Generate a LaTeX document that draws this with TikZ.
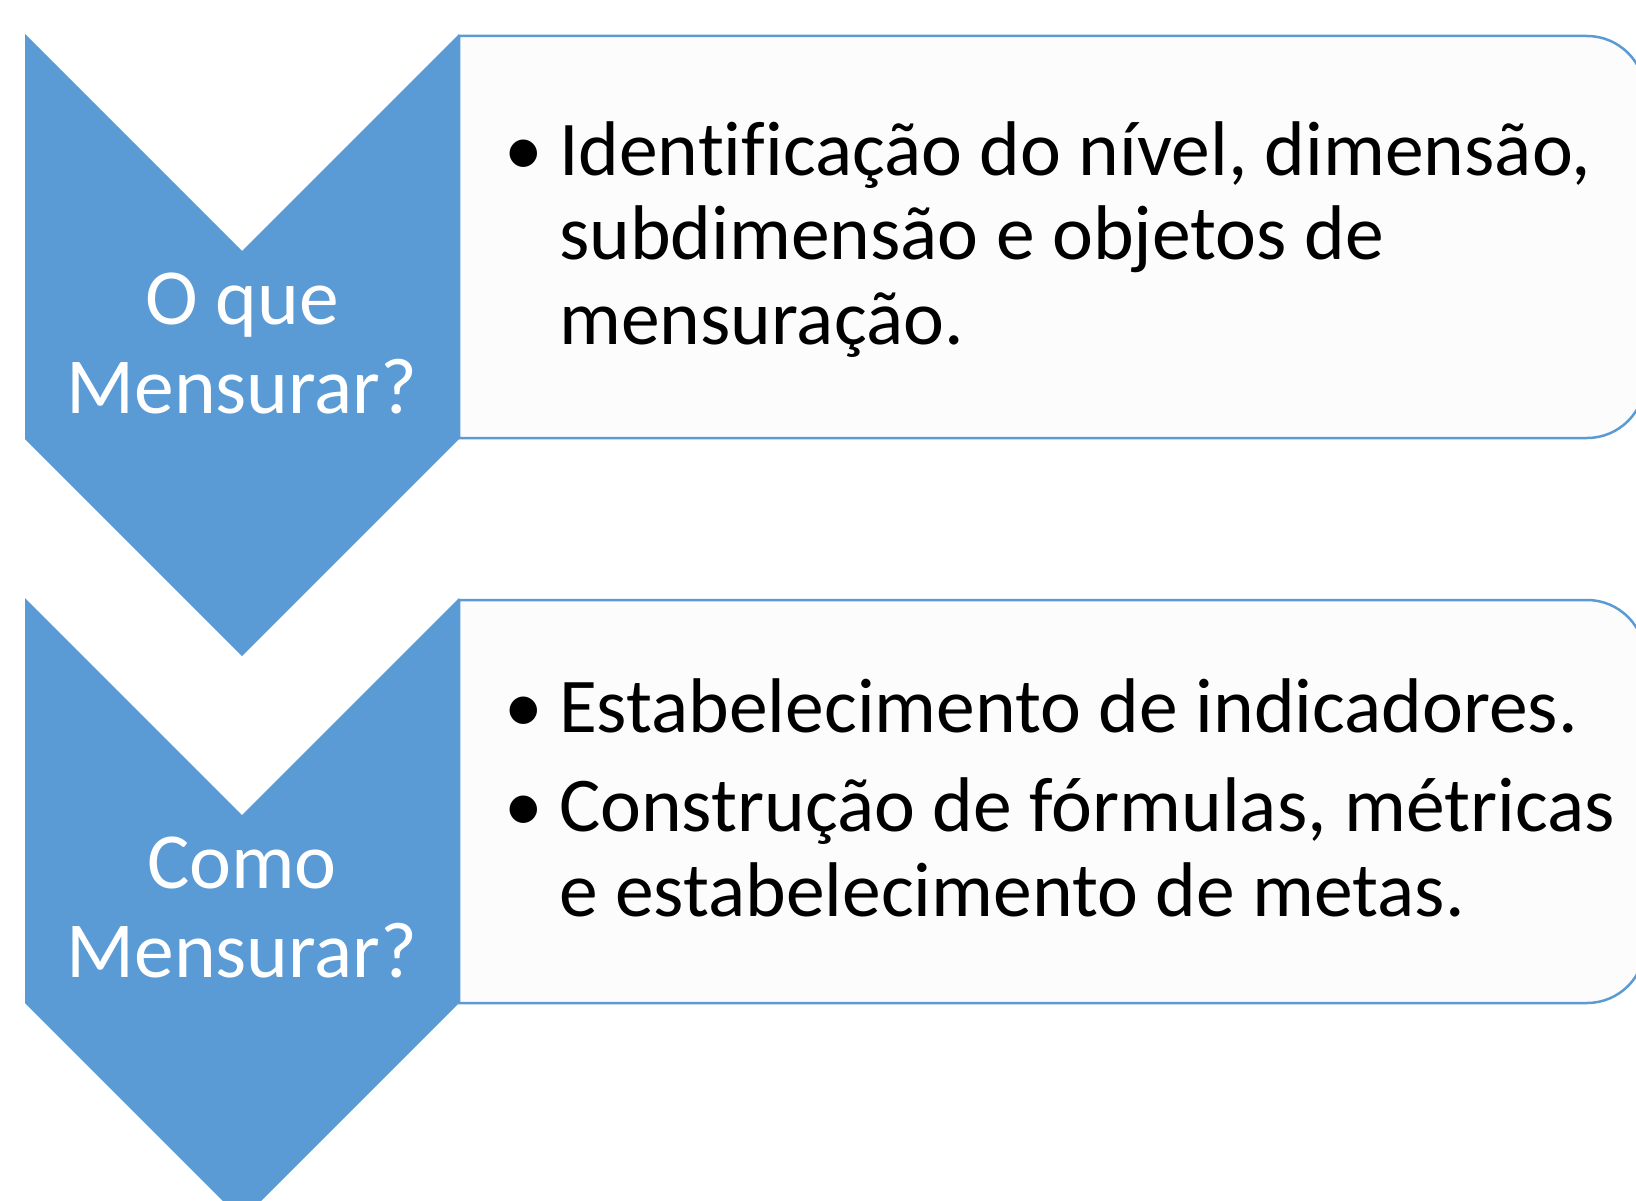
\documentclass[tikz,border=0pt]{standalone}
\usepackage{fontspec}
\setmainfont{Carlito}[Ligatures={NoCommon}]
\definecolor{chev}{HTML}{5B9BD5}
\definecolor{boxfill}{HTML}{FCFCFC}
\tikzset{
  chevshape/.style={fill=chev, draw=none},
  listbox/.style={fill=boxfill, draw=chev, line width=2.5pt},
  chevtext/.style={text=white, align=center, inner sep=0pt, font=\fontsize{79.5}{88.5}\selectfont},
  bodytext/.style={text=black, align=left, inner sep=0pt, font=\fontsize{77.5}{84.5}\selectfont}
}
\newcommand{\bul}{\makebox[55pt][l]{•}}
\newcommand{\ind}{\hspace*{55pt}}
\begin{document}
\begin{tikzpicture}[x=1pt,y=1pt]
\useasboundingbox (0,0) rectangle (1636,-1201);
\clip (0,0) rectangle (1636,-1201);
\fill[white] (0,0) rectangle (1636,-1201);
% boxes
\draw[listbox] (459,-36) -- (1587,-36) arc[start angle=90,end angle=0,radius=58] -- (1645,-380) arc[start angle=0,end angle=-90,radius=58] -- (459,-438) -- cycle;
\draw[listbox] (459,-600) -- (1587,-600) arc[start angle=90,end angle=0,radius=58] -- (1645,-945) arc[start angle=0,end angle=-90,radius=58] -- (459,-1003) -- cycle;
% chevrons
\fill[chevshape] (25,-34) -- (242,-251) -- (459,-34) -- (459,-439) -- (242,-656) -- (25,-439) -- cycle;
\fill[chevshape] (25,-598) -- (242,-815) -- (459,-598) -- (459,-1003) -- (242,-1220) -- (25,-1003) -- cycle;
% texts (base anchor = baseline of last line)
\node[chevtext, anchor=base] (q1) at (242,-413) {O que\\Mensurar?};
\node[chevtext, anchor=base] (q2) at (242,-977) {Como\\Mensurar?};
\node[bodytext, anchor=base west] (t1) at (504,-344) {\bul Identificação do nível, dimensão,\\\ind subdimensão e objetos de\\\ind mensuração.};
\node[bodytext, anchor=base west] (t2) at (504,-916) {\bul Estabelecimento de indicadores.\\[15pt]\bul Construção de fórmulas, métricas\\\ind e estabelecimento de metas.};
\end{tikzpicture}
\end{document}
